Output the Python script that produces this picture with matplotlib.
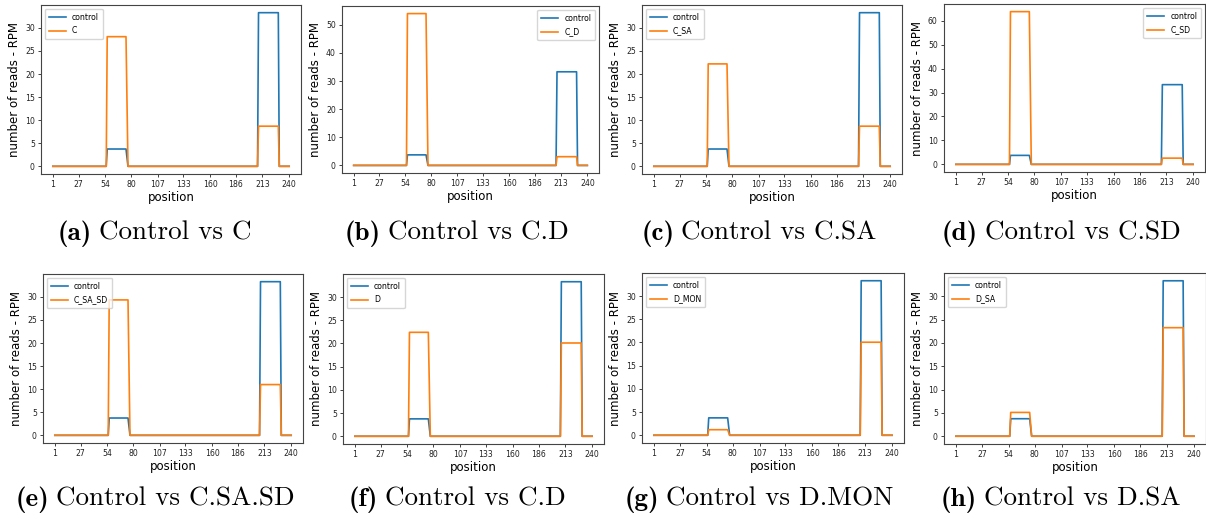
import numpy as np
import matplotlib
matplotlib.use("Agg")
import matplotlib.pyplot as plt

# read positions where the coverage profile changes
positions = [1, 55, 56, 75, 77, 208, 209, 229, 230, 240]

# plateau heights (RPM) for the two peaks
control_peaks = (3.75, 33.3)
samples = ['C', 'C_D', 'C_SA', 'C_SD', 'C_SA_SD', 'D', 'D_MON', 'D_SA']
sample_peaks = [(28.1, 8.7), (54.0, 3.1), (22.2, 8.7), (63.8, 2.6),
                (29.35, 11.0), (22.4, 20.1), (1.2, 20.05), (5.1, 23.25)]
captions = ['C', 'C.D', 'C.SA', 'C.SD', 'C.SA.SD', 'C.D', 'D.MON', 'D.SA']
letters = ['a', 'b', 'c', 'd', 'e', 'f', 'g', 'h']
legend_loc = ['upper left', 'upper right', 'upper left', 'upper right',
              'upper left', 'upper left', 'upper left', 'upper left']

xticks = [1, 27, 54, 80, 107, 133, 160, 186, 213, 240]

# axes boxes in pixels: left, right, top, bottom
boxes = [(41, 301, 5, 174), (342, 599, 6, 173), (642, 902, 5, 174), (944, 1205, 4, 172),
         (43, 303, 274, 443), (343, 604, 274, 444), (642, 904, 273, 443), (944, 1206, 273, 444)]
cap_x = [155, 457, 759, 1061, 155, 457, 759, 1061]
cap_y = [240, 240, 240, 240, 506, 506, 506, 506]

W, H = 1206, 522


def profile(p1, p2):
    return [0, 0, p1, p1, 0, 0, p2, p2, 0, 0]


fig = plt.figure(figsize=(W / 100, H / 100), dpi=100)

for i in range(8):
    l, r, t, b = boxes[i]
    ax = fig.add_axes([l / W, 1 - b / H, (r - l) / W, (b - t) / H])
    ax.plot(positions, profile(*control_peaks), color='#1f77b4', lw=1.2, label='control')
    ax.plot(positions, profile(*sample_peaks[i]), color='#ff7f0e', lw=1.2, label=samples[i])
    ax.set_xticks(xticks)
    ax.set_xticklabels([str(v) for v in xticks])
    ax.tick_params(labelsize=5.6, length=2.5, width=0.6, pad=2, colors='#222222')
    for s in ax.spines.values():
        s.set_color('#444444')
        s.set_linewidth(0.8)
    ax.set_xlabel('position', fontsize=8.5, labelpad=1)
    ax.set_ylabel('number of reads - RPM', fontsize=8.5, labelpad=3)
    ax.legend(loc=legend_loc[i], fontsize=5.6, handlelength=2.2, borderpad=0.5,
              labelspacing=0.6, framealpha=0.8)

# subfigure captions: bold letter in cmb10, text in cmr10, centred as a pair
renderer = fig.canvas.get_renderer()
gap = 7
for i in range(8):
    y = 1 - cap_y[i] / H
    t1 = fig.text(0, y, '(%s)' % letters[i], family='cmb10', fontsize=19.5,
                  ha='left', va='baseline')
    t2 = fig.text(0, y, 'Control vs %s' % captions[i], family='cmr10', fontsize=19.5,
                  ha='left', va='baseline')
    w1 = t1.get_window_extent(renderer).width
    w2 = t2.get_window_extent(renderer).width
    x0 = cap_x[i] - (w1 + gap + w2) / 2
    t1.set_x(x0 / W)
    t2.set_x((x0 + w1 + gap) / W)

fig.savefig('out.png', dpi=100)
